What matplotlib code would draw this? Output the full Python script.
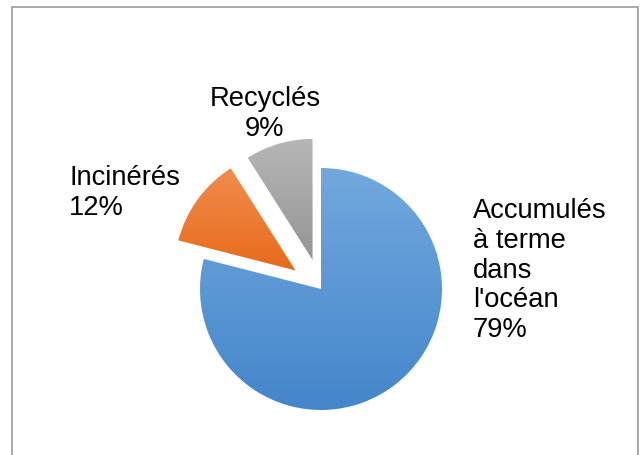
import numpy as np
import matplotlib
matplotlib.use("Agg")
import matplotlib.pyplot as plt
from matplotlib.colors import LinearSegmentedColormap
from matplotlib.patches import Rectangle

plt.rcParams['font.family'] = ['Liberation Sans', 'DejaVu Sans']

categories = ["Accumulés\nà terme\ndans\nl'océan", "Incinérés", "Recyclés"]
values = [79, 12, 9]
explode = [0, 0.26, 0.25]  # fraction of radius
top_colors = ["#72a8dd", "#f18c4e", "#b6b6b6"]
bottom_colors = ["#4486cb", "#e76a1a", "#959595"]

W, H = 641, 455
R = 121
fig = plt.figure(figsize=(W / 100, H / 100), dpi=100)
ax = fig.add_axes([0, 0, 1, 1])

# pie's explode is in data units, so scale by radius
wedges, _ = ax.pie(values, startangle=90, counterclock=False,
                   explode=[e * R for e in explode],
                   center=(321, H - 289), radius=R, frame=True)
ax.set_xlim(0, W)
ax.set_ylim(0, H)
ax.set_aspect('equal')
ax.set_axis_off()

grad = np.linspace(0, 1, 256).reshape(-1, 1)
inv = ax.transData.inverted()
for w, c0, c1 in zip(wedges, top_colors, bottom_colors):
    w.set_facecolor('none')
    w.set_edgecolor('none')
    ext = w.get_transform().transform_path(w.get_path()).get_extents()
    (x0, y0), (x1, y1) = inv.transform([[ext.x0, ext.y0], [ext.x1, ext.y1]])
    cmap = LinearSegmentedColormap.from_list("g", [c0, c1])
    im = ax.imshow(grad, cmap=cmap, extent=(x0, x1, y0, y1), origin='upper',
                   aspect='auto', interpolation='bilinear', zorder=1)
    im.set_clip_path(w)

ax.set_xlim(0, W)
ax.set_ylim(0, H)

fs = 19.7
ls = 1.19
ax.text(473, H - 198, f"{categories[0]}\n{values[0]}%", ha='left', va='top',
        fontsize=fs, linespacing=ls)
ax.text(69, H - 165, f"{categories[1]}\n{values[1]}%", ha='left', va='top',
        fontsize=fs, linespacing=ls)
ax.text(265, H - 86, f"{categories[2]}\n{values[2]}%", ha='center', va='top',
        fontsize=fs, linespacing=ls)

fig.patches.append(Rectangle((11.5 / W, -0.05), 626 / W, 1.05 - 7.5 / H,
                             transform=fig.transFigure, fill=False,
                             edgecolor='#a3a3a3', linewidth=1.3))

fig.savefig("out.png", dpi=100, facecolor='white')
